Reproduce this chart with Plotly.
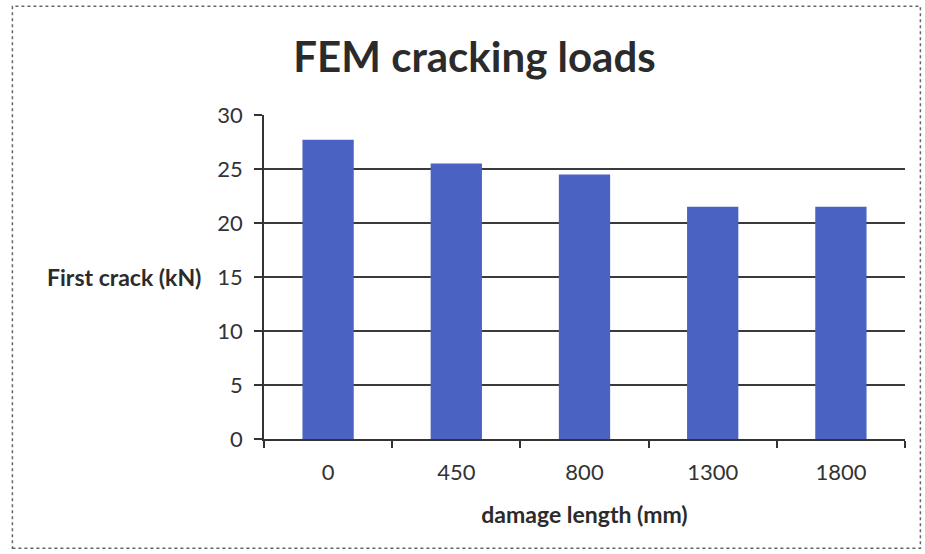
import plotly.graph_objects as go

# Cracking loads from the FEM runs, one bar per damage length
damage_lengths = ["0", "450", "800", "1300", "1800"]
first_crack_kn = [27.7, 25.5, 24.5, 21.5, 21.5]
y_ticks = [0, 5, 10, 15, 20, 25, 30]

FONT = "Lato, 'Open Sans', sans-serif"
BAR_COLOR = "#4A63C3"

fig = go.Figure(
    go.Bar(
        x=damage_lengths,
        y=first_crack_kn,
        marker=dict(color=BAR_COLOR, line=dict(width=0)),
        width=0.4,
    )
)

fig.update_layout(
    width=925,
    height=554,
    margin=dict(l=264, r=20, t=115, b=115),
    paper_bgcolor="white",
    plot_bgcolor="white",
    showlegend=False,
    font=dict(family=FONT, color="#333333"),
    title=dict(
        text="<b>FEM cracking loads</b>",
        x=0.513,
        xanchor="center",
        y=0.897,
        yanchor="middle",
        font=dict(family=FONT, size=42, color="#2b2b2b"),
    ),
)

fig.update_xaxes(
    type="category",
    showgrid=False,
    showline=True,
    linecolor="#333333",
    linewidth=1.5,
    ticks="outside",
    tickson="boundaries",
    ticklen=7,
    tickwidth=1.5,
    tickcolor="#333333",
    ticklabelstandoff=13,
    tickfont=dict(family=FONT, size=22, color="#333333"),
    title=dict(
        text="<b>damage length (mm)</b>",
        font=dict(family=FONT, size=23, color="#2b2b2b"),
        standoff=23,
    ),
)

fig.update_yaxes(
    range=[0, 30],
    tickvals=y_ticks,
    showgrid=True,
    gridcolor="#3a3a3a",
    gridwidth=1.5,
    zeroline=False,
    showline=True,
    linecolor="#333333",
    linewidth=1.5,
    ticks="outside",
    ticklen=8,
    tickwidth=1.5,
    tickcolor="#333333",
    ticklabelstandoff=7,
    tickfont=dict(family=FONT, size=22, color="#333333"),
)

# Horizontal axis caption placed to the left of the tick labels
fig.add_annotation(
    text="<b>First crack (kN)</b>",
    xref="paper",
    yref="paper",
    x=-0.095,
    y=0.5,
    xanchor="right",
    yanchor="middle",
    showarrow=False,
    font=dict(family=FONT, size=23, color="#2b2b2b"),
)

# Chart frame
fig.add_shape(
    type="rect",
    xref="paper",
    yref="paper",
    x0=-0.3925,
    x1=1.024,
    y0=-0.337,
    y1=1.336,
    line=dict(color="#666666", width=1.5, dash="dot"),
    layer="below",
)

fig.write_html("out.html")
